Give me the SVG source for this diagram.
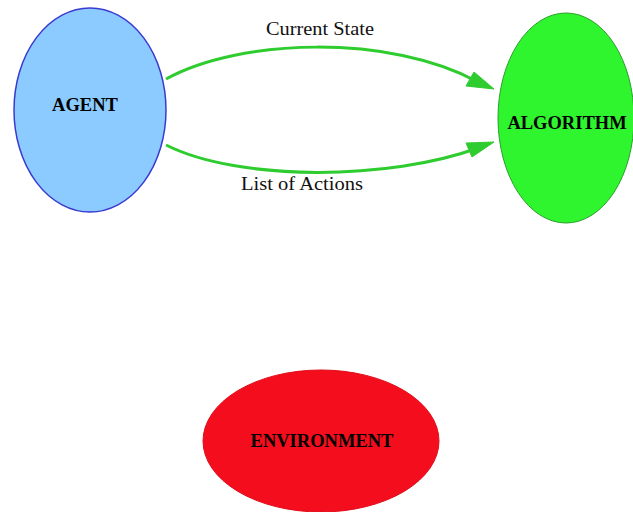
<svg xmlns="http://www.w3.org/2000/svg" width="633" height="512" viewBox="0 0 633 512">
  <style>
    .node-label { font-family: "Liberation Serif", "Times New Roman", serif; font-weight: bold; font-size: 18.5px; fill: #000; text-anchor: middle; }
    .edge-label { font-family: "Liberation Serif", "Times New Roman", serif; font-size: 19px; fill: #111; text-anchor: middle; }
    .edge { fill: none; stroke: #2ecc2e; stroke-width: 3; }
    .head { fill: #2ecc2e; stroke: #2ecc2e; stroke-width: 1; }
  </style>
  <rect width="633" height="512" fill="#fff"/>

  <g id="connectors">
    <path class="edge" d="M166,79 C240,38 390,34 478,82"/>
    <polygon class="head" points="494,89 466,86 474,72"/>
    <path class="edge" d="M166,145 C240,182 390,180 478,148"/>
    <polygon class="head" points="494,142 472,157 466,143"/>
    <text class="edge-label" x="320" y="35" textLength="108" lengthAdjust="spacingAndGlyphs">Current State</text>
    <text class="edge-label" x="302" y="190" textLength="122" lengthAdjust="spacingAndGlyphs">List of Actions</text>
  </g>

  <g id="agent">
    <ellipse cx="90" cy="110" rx="76" ry="102" fill="#8ccbff" stroke="#3a3ad0" stroke-width="1.5"/>
    <text class="node-label" x="85" y="111">AGENT</text>
  </g>

  <g id="algorithm">
    <ellipse cx="566" cy="118" rx="68" ry="105" fill="#2ef52e" stroke="#2aa02a" stroke-width="1"/>
    <text class="node-label" x="567" y="129">ALGORITHM</text>
  </g>

  <g id="environment">
    <ellipse cx="321" cy="441" rx="118" ry="71" fill="#f40d1d" stroke="#e00d1a" stroke-width="1"/>
    <text class="node-label" x="322" y="447">ENVIRONMENT</text>
  </g>
</svg>
